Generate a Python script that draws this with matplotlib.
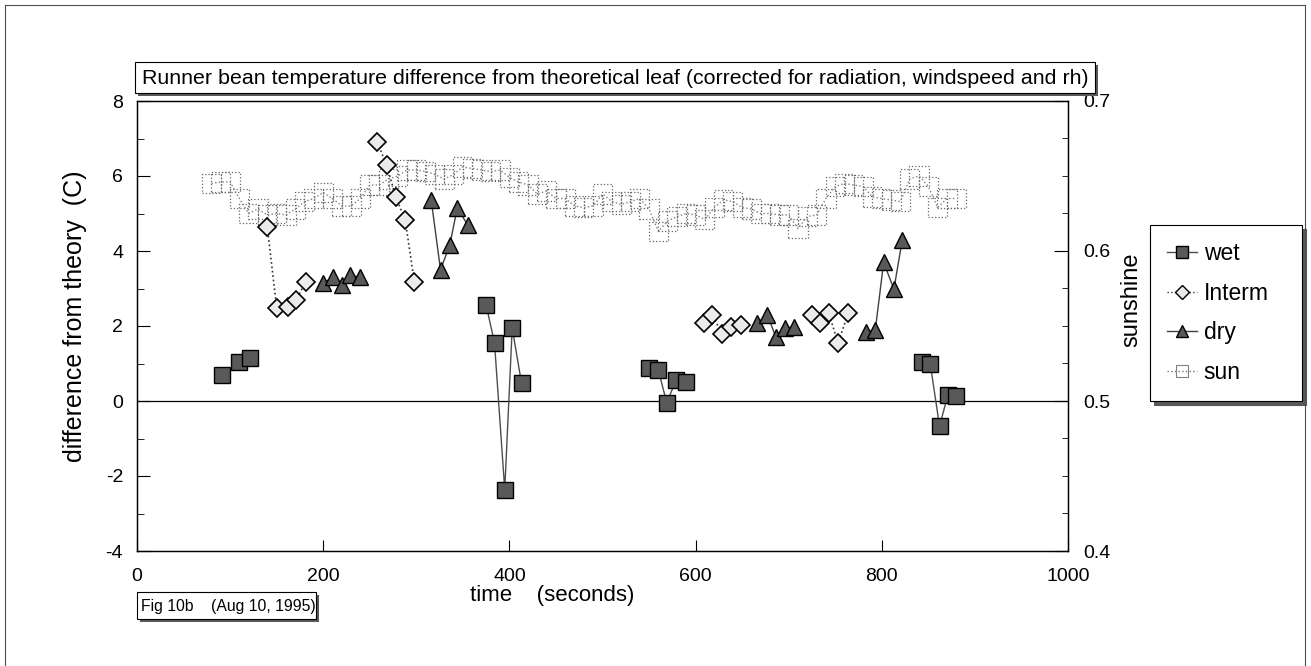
import numpy as np
import matplotlib.pyplot as plt
from matplotlib.lines import Line2D
from matplotlib.patches import Rectangle
from matplotlib.ticker import MultipleLocator

plt.rcParams['font.family'] = ['Liberation Sans', 'DejaVu Sans']
plt.rcParams['axes.unicode_minus'] = False

nan = np.nan

# wet treatment (difference from theory, C)
wet_t = [91, 110, 121, nan, 375, 384, 395, 403, 413, nan,
         550, 560, 569, 579, 590, nan, 843, 852, 862, 871, 880]
wet_v = [0.69, 1.04, 1.14, nan, 2.56, 1.55, -2.37, 1.95, 0.48, nan,
         0.88, 0.83, -0.05, 0.56, 0.51, nan, 1.04, 1.0, -0.67, 0.16, 0.13]

# intermediate
int_t = [140, 150, 162, 171, 181, nan, 258, 268, 278, 288, 298, nan,
         609, 618, 628, 638, 649, nan, 725, 734, 743, 753, 764]
int_v = [4.64, 2.48, 2.5, 2.7, 3.17, nan, 6.9, 6.3, 5.44, 4.83, 3.17, nan,
         2.08, 2.3, 1.8, 1.98, 2.02, nan, 2.3, 2.08, 2.34, 1.55, 2.34]

# dry
dry_t = [200, 211, 220, 229, 239, nan, 316, 326, 336, 344, 355, nan,
         666, 677, 686, 696, 706, nan, 783, 793, 802, 813, 822]
dry_v = [3.15, 3.3, 3.1, 3.36, 3.3, nan, 5.36, 3.5, 4.16, 5.15, 4.7, nan,
         2.08, 2.3, 1.72, 1.94, 1.98, nan, 1.85, 1.89, 3.7, 2.98, 4.3]

# sunshine (right axis), every 10 s from 80 to 880
sun_t = list(range(80, 890, 10))
sun_s = [0.645, 0.646, 0.646, 0.635, 0.625, 0.628, 0.624, 0.625, 0.624, 0.628,
         0.633, 0.635, 0.639, 0.635, 0.630, 0.630, 0.635, 0.644, 0.644, 0.648,
         0.650, 0.654, 0.654, 0.653, 0.651, 0.648, 0.651, 0.656, 0.655, 0.654,
         0.653, 0.654, 0.649, 0.646, 0.644, 0.638, 0.640, 0.635, 0.635, 0.630,
         0.629, 0.630, 0.638, 0.633, 0.631, 0.633, 0.635, 0.628, 0.613, 0.620,
         0.623, 0.625, 0.624, 0.621, 0.629, 0.634, 0.633, 0.629, 0.628, 0.625,
         0.625, 0.624, 0.624, 0.615, 0.623, 0.624, 0.635, 0.643, 0.645, 0.644,
         0.643, 0.636, 0.635, 0.634, 0.633, 0.648, 0.650, 0.643, 0.629, 0.635,
         0.635]

W, H = 1311, 666

def fx(x):
    return x / W

def fy(y):
    return 1 - y / H

def box(fig, x0, y0, x1, y1):
    # shadowed box, pixel coords
    fig.add_artist(Rectangle((fx(x0 + 3), fy(y1 + 3)), fx(x1 - x0), (y1 - y0) / H,
                             transform=fig.transFigure, fc='0.35', ec='none', zorder=1))
    fig.add_artist(Rectangle((fx(x0), fy(y1)), fx(x1 - x0), (y1 - y0) / H,
                             transform=fig.transFigure, fc='white', ec='black', lw=0.8, zorder=2))

fig = plt.figure(figsize=(W / 100, H / 100), dpi=100)

# page frame
for xs, ys in [([5, 5], [5, 700]), ([5, 1305], [5, 5]), ([1305, 1305], [5, 700])]:
    fig.add_artist(Line2D([fx(v) for v in xs], [fy(v) for v in ys], color='0.3', lw=0.8))

ax1 = fig.add_axes([fx(137), fy(551), fx(1068 - 137), (551 - 101) / H])
ax2 = ax1.twinx()
ax1.set_zorder(ax2.get_zorder() + 1)
ax1.patch.set_visible(False)

ax2.plot(sun_t, sun_s, ls=':', color='0.5', lw=1)
ax2.scatter(sun_t, sun_s, s=190, marker='s', facecolors='none', edgecolors='0.4',
            linewidths=0.9, linestyles=':')

ax1.axhline(0, color='black', lw=0.9)
ax1.plot(wet_t, wet_v, '-', color='0.3', lw=1, marker='s', ms=11, mfc='0.35', mec='black', mew=1)
ax1.plot(int_t, int_v, ':', color='0.2', lw=1.2, marker='D', ms=9, mfc='0.92', mec='black', mew=1.2)
ax1.plot(dry_t, dry_v, '-', color='0.25', lw=1, marker='^', ms=12, mfc='0.35', mec='black', mew=1)

ax1.set_xlim(0, 1000)
ax1.set_ylim(-4, 8)
ax2.set_ylim(0.4, 0.7)
ax1.xaxis.set_major_locator(MultipleLocator(200))
ax1.yaxis.set_major_locator(MultipleLocator(2))
ax1.yaxis.set_minor_locator(MultipleLocator(1))
ax2.yaxis.set_major_locator(MultipleLocator(0.1))
ax2.yaxis.set_minor_locator(MultipleLocator(0.025))
ax2.yaxis.set_major_formatter(plt.FuncFormatter(lambda v, p: f'{v:g}'))

ax1.tick_params(axis='x', direction='in', length=8, labelsize=14, pad=12, top=False)
ax1.tick_params(axis='y', which='major', direction='in', length=9, labelsize=14, pad=10)
ax1.tick_params(axis='y', which='minor', direction='in', length=5)
ax2.tick_params(axis='y', which='major', direction='in', length=10, labelsize=14, pad=11)
ax2.tick_params(axis='y', which='minor', direction='in', length=4)
for a in (ax1, ax2):
    for s in a.spines.values():
        s.set_linewidth(0.9)

fig.text(fx(75), fy(316), 'difference from theory  (C)', rotation=90, fontsize=18,
         ha='center', va='center')
fig.text(fx(1131), fy(300), 'sunshine', rotation=90, fontsize=17, ha='center', va='center')
fig.text(fx(470), fy(596), 'time    (seconds)', fontsize=16, ha='left', va='center')

# title box
box(fig, 135, 62, 1095, 93)
fig.text(fx(142), fy(78), 'Runner bean temperature difference from theoretical leaf '
         '(corrected for radiation, windspeed and rh)', fontsize=15.4, ha='left', va='center',
         zorder=3)

# figure number box
box(fig, 137, 592, 316, 619)
fig.text(fx(141), fy(606), 'Fig 10b    (Aug 10, 1995)', fontsize=11.3, ha='left', va='center',
         zorder=3)

handles = [
    Line2D([], [], color='0.3', lw=1, marker='s', ms=8, mfc='0.35', mec='black'),
    Line2D([], [], color='0.2', ls=':', lw=1, marker='D', ms=7, mfc='0.92', mec='black'),
    Line2D([], [], color='0.25', lw=1, marker='^', ms=9, mfc='0.35', mec='black'),
    Line2D([], [], color='0.45', ls=':', lw=1, marker='s', ms=9, mfc='none', mec='0.5', mew=0.8),
]
leg = ax1.legend(handles, ['wet', 'Interm', 'dry', 'sun'], loc='upper left',
                 bbox_to_anchor=(fx(1150), fy(397), fx(152), 172 / H),
                 bbox_transform=fig.transFigure, mode='expand',
                 fancybox=False, edgecolor='black', borderaxespad=0, fontsize=16.5,
                 labelspacing=0.72, handlelength=1.3, handletextpad=0.3, borderpad=0.75,
                 framealpha=1,
                 shadow={'ox': 3, 'oy': -3, 'facecolor': '0.35', 'edgecolor': '0.35', 'alpha': 1})
leg.get_frame().set_linewidth(0.8)

fig.savefig('out.png', dpi=100)
